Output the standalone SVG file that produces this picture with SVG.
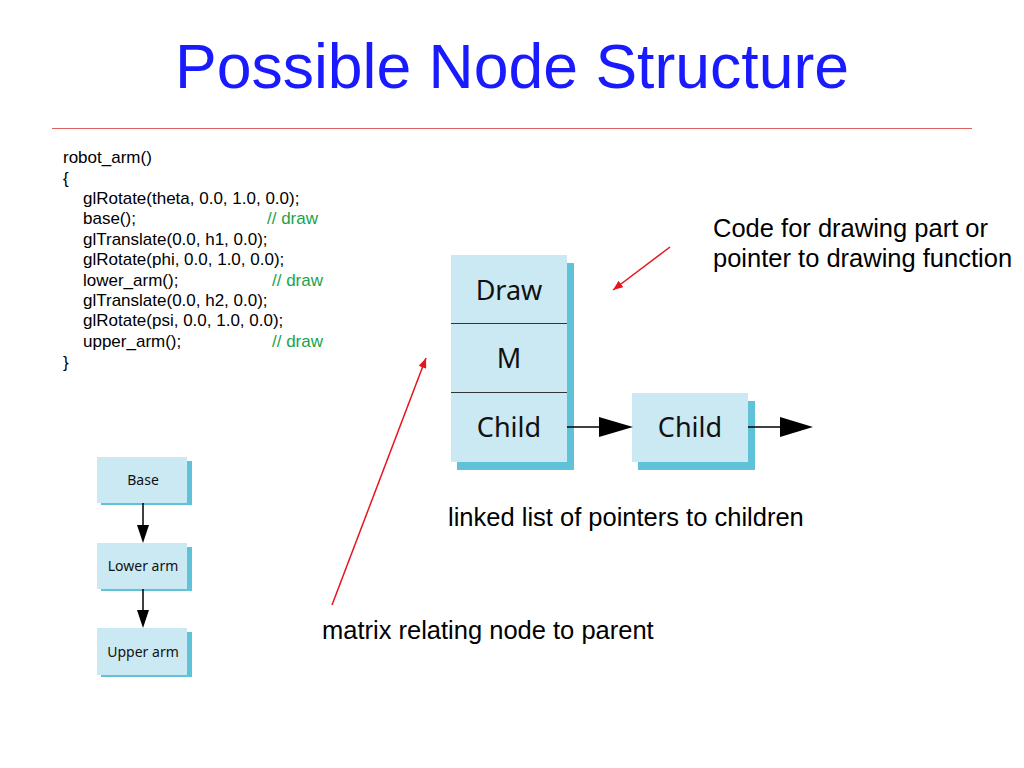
<svg xmlns="http://www.w3.org/2000/svg" width="1024" height="768" viewBox="0 0 1024 768">
<style>
.code{font-family:"Liberation Sans",Arial,sans-serif;font-size:17px;fill:#000}
.cm{fill:#1aa34a}
.lbl{font-family:"Liberation Sans",Arial,sans-serif;font-size:25.5px;fill:#000}
.box{fill:#cbe9f2}
.sh{fill:#5fc2d9}
.bt{font-family:"Noto Sans","DejaVu Sans",sans-serif;fill:#111;text-anchor:middle}
.div{stroke:#333;stroke-width:1.2}
.blk{stroke:#000;stroke-width:1.5;fill:none}
.red{stroke:#e8141c;stroke-width:1.5;fill:none}
</style>
<defs>
<marker id="ah" markerWidth="10" markerHeight="8" refX="10" refY="4" orient="auto" markerUnits="userSpaceOnUse" viewBox="0 0 10 8"><path d="M0,0 L10,4 L0,8 Z" fill="#e8141c"/></marker>
</defs>
<rect width="1024" height="768" fill="#fff"/>
<text x="512" y="88" text-anchor="middle" font-family="'Liberation Sans',Arial,sans-serif" font-size="62.5" fill="#1a1aff">Possible Node Structure</text>
<line x1="52" y1="128.5" x2="972" y2="128.5" stroke="#e06060" stroke-width="1"/>
<g id="code">
<text class="code" x="63" y="163">robot_arm()</text>
<text class="code" x="63" y="184">{</text>
<text class="code" x="83" y="204">glRotate(theta, 0.0, 1.0, 0.0);</text>
<text class="code" x="83" y="224">base();</text><text class="code cm" x="267" y="224">// draw</text>
<text class="code" x="83" y="245">glTranslate(0.0, h1, 0.0);</text>
<text class="code" x="83" y="265">glRotate(phi, 0.0, 1.0, 0.0);</text>
<text class="code" x="83" y="286">lower_arm();</text><text class="code cm" x="272" y="286">// draw</text>
<text class="code" x="83" y="306">glTranslate(0.0, h2, 0.0);</text>
<text class="code" x="83" y="326">glRotate(psi, 0.0, 1.0, 0.0);</text>
<text class="code" x="83" y="347">upper_arm();</text><text class="code cm" x="272" y="347">// draw</text>
<text class="code" x="63" y="368">}</text>
</g>
<g id="node-main">
<rect class="sh" x="457" y="263" width="117" height="207"/>
<rect class="box" x="451" y="255" width="116" height="207"/>
<line class="div" x1="451" y1="323.5" x2="567" y2="323.5"/>
<line class="div" x1="451" y1="392.5" x2="567" y2="392.5"/>
<text class="bt" x="509" y="300" font-size="27">Draw</text>
<text class="bt" x="509" y="368" font-size="27">M</text>
<text class="bt" x="509" y="437" font-size="27">Child</text>
</g>
<g id="node-child">
<rect class="sh" x="638" y="401" width="117" height="69"/>
<rect class="box" x="632" y="393" width="116" height="69"/>
<text class="bt" x="690" y="437" font-size="27">Child</text>
</g>
<g id="node-base">
<rect class="sh" x="101" y="461" width="91" height="44"/>
<rect class="box" x="97" y="457" width="90" height="46"/>
<text class="bt" x="143" y="485" font-size="14">Base</text>
</g>
<g id="node-lower">
<rect class="sh" x="101" y="547" width="91" height="44"/>
<rect class="box" x="97" y="543" width="90" height="46"/>
<text class="bt" x="143" y="571" font-size="14">Lower arm</text>
</g>
<g id="node-upper">
<rect class="sh" x="101" y="632" width="91" height="45"/>
<rect class="box" x="97" y="628" width="90" height="47"/>
<text class="bt" x="143" y="657" font-size="14">Upper arm</text>
</g>
<g id="connectors">
<line class="blk" x1="567" y1="427" x2="602" y2="427"/>
<path d="M599,417 L633,427 L599,437 Z" fill="#000"/>
<line class="blk" x1="748" y1="427" x2="783" y2="427"/>
<path d="M780,417 L813,427 L780,437 Z" fill="#000"/>
<line class="blk" x1="143" y1="503" x2="143" y2="526"/>
<path d="M137,525 L143,543 L149,525 Z" fill="#000"/>
<line class="blk" x1="143" y1="589" x2="143" y2="611"/>
<path d="M137,610 L143,628 L149,610 Z" fill="#000"/>
<line class="red" x1="670" y1="247" x2="613" y2="290" marker-end="url(#ah)"/>
<line class="red" x1="332" y1="605" x2="426" y2="358" marker-end="url(#ah)"/>
</g>
<g id="labels">
<text class="lbl" x="713" y="237">Code for drawing part or</text>
<text class="lbl" x="713" y="267">pointer to drawing function</text>
<text class="lbl" x="448" y="526">linked list of pointers to children</text>
<text class="lbl" x="322" y="639">matrix relating node to parent</text>
</g>
</svg>
